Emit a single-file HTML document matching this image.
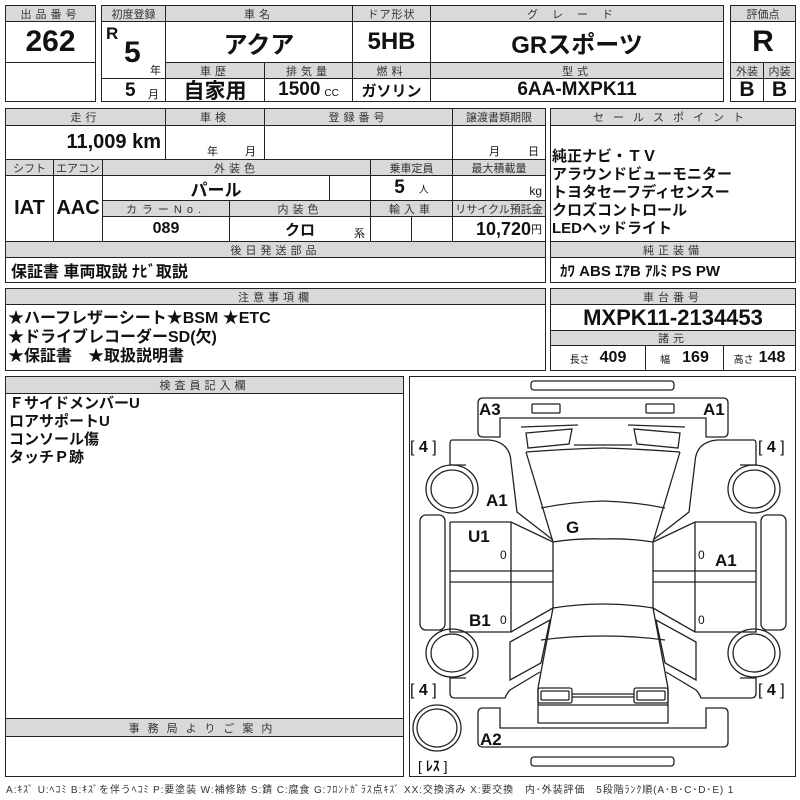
<!DOCTYPE html>
<html><head><meta charset="utf-8">
<style>
*{margin:0;padding:0}
body{width:800px;height:800px;background:#fff;position:relative;overflow:hidden;font-family:"Liberation Sans","Noto Sans CJK JP",sans-serif;color:#111}
.c{position:absolute;border:1px solid #222;box-sizing:border-box;display:flex;align-items:center;justify-content:center;white-space:nowrap;overflow:hidden}
.h{background:#d9d9d9;font-size:11px;letter-spacing:4px;color:#333}
.v{font-weight:bold;font-family:"Liberation Sans Narrow","Liberation Sans","Noto Sans CJK JP",sans-serif}
.t{position:absolute;white-space:nowrap}
.tx{font-family:"Liberation Sans","Noto Sans CJK JP",sans-serif;font-weight:bold;font-size:15px;line-height:18px}
</style></head><body>
<div class="c" style="left:5px;top:5px;width:91px;height:97px"></div>
<div class="c h" style="left:5px;top:5px;width:91px;height:17px">出品番号</div>
<div class="c v" style="left:5px;top:21px;width:91px;height:42px;font-size:30px">262</div>
<div class="c" style="left:101px;top:5px;width:623px;height:97px"></div>
<div class="c h" style="left:101px;top:5px;width:65px;height:17px;letter-spacing:0">初度登録</div>
<div class="c h" style="left:165px;top:5px;width:188px;height:17px">車名</div>
<div class="c h" style="left:352px;top:5px;width:79px;height:17px;letter-spacing:1px">ドア形状</div>
<div class="c h" style="left:430px;top:5px;width:294px;height:17px;letter-spacing:14px">グレード</div>
<div class="c" style="left:101px;top:21px;width:65px;height:58px"></div>
<div class="t v" style="left:106px;top:24px;font-size:17px">R</div>
<div class="t v" style="left:124px;top:36px;font-size:30px">5</div>
<div class="t" style="left:150px;top:62px;font-size:11px">年</div>
<div class="c" style="left:101px;top:78px;width:65px;height:24px"></div>
<div class="t v" style="left:125px;top:80px;font-size:19px">5</div>
<div class="t" style="left:148px;top:86px;font-size:11px">月</div>
<div class="c v" style="left:165px;top:21px;width:188px;height:42px;font-size:24px">アクア</div>
<div class="c v" style="left:352px;top:21px;width:79px;height:42px;font-size:24px">5HB</div>
<div class="c v" style="left:430px;top:21px;width:294px;height:42px;font-size:24px">GRスポーツ</div>
<div class="c h" style="left:165px;top:62px;width:100px;height:17px">車歴</div>
<div class="c h" style="left:264px;top:62px;width:89px;height:17px">排気量</div>
<div class="c h" style="left:352px;top:62px;width:79px;height:17px">燃料</div>
<div class="c h" style="left:430px;top:62px;width:294px;height:17px">型式</div>
<div class="c v" style="left:165px;top:78px;width:100px;height:24px;font-size:21px">自家用</div>
<div class="c v" style="left:264px;top:78px;width:89px;height:24px;font-size:19px">1500 <span style="font-size:10px;font-weight:normal;margin-left:4px;margin-top:6px">CC</span></div>
<div class="c v" style="left:352px;top:78px;width:79px;height:24px;font-size:15px">ガソリン</div>
<div class="c v" style="left:430px;top:78px;width:294px;height:24px;font-size:19px">6AA-MXPK11</div>
<div class="c" style="left:730px;top:5px;width:66px;height:97px"></div>
<div class="c h" style="left:730px;top:5px;width:66px;height:17px;letter-spacing:0">評価点</div>
<div class="c v" style="left:730px;top:21px;width:66px;height:42px;font-size:30px">R</div>
<div class="c h" style="left:730px;top:62px;width:34px;height:17px;letter-spacing:0">外装</div>
<div class="c h" style="left:763px;top:62px;width:33px;height:17px;letter-spacing:0">内装</div>
<div class="c v" style="left:730px;top:78px;width:34px;height:24px;font-size:21px">B</div>
<div class="c v" style="left:763px;top:78px;width:33px;height:24px;font-size:21px">B</div>
<div class="c" style="left:5px;top:108px;width:541px;height:175px"></div>
<div class="c h" style="left:5px;top:108px;width:161px;height:18px">走行</div>
<div class="c h" style="left:165px;top:108px;width:100px;height:18px">車検</div>
<div class="c h" style="left:264px;top:108px;width:189px;height:18px">登録番号</div>
<div class="c h" style="left:452px;top:108px;width:94px;height:18px;letter-spacing:0">譲渡書類期限</div>
<div class="c v" style="left:5px;top:125px;width:161px;height:35px;font-size:20px;justify-content:flex-end;padding-right:4px">11,009 km</div>
<div class="c" style="left:165px;top:125px;width:100px;height:35px"></div>
<div class="t" style="left:207px;top:143px;font-size:11px">年</div>
<div class="t" style="left:245px;top:143px;font-size:11px">月</div>
<div class="c" style="left:264px;top:125px;width:189px;height:35px"></div>
<div class="c" style="left:452px;top:125px;width:94px;height:35px"></div>
<div class="t" style="left:489px;top:143px;font-size:11px">月</div>
<div class="t" style="left:528px;top:143px;font-size:11px">日</div>
<div class="c h" style="left:5px;top:159px;width:49px;height:17px;letter-spacing:0">シフト</div>
<div class="c h" style="left:53px;top:159px;width:50px;height:17px;letter-spacing:0">エアコン</div>
<div class="c h" style="left:102px;top:159px;width:269px;height:17px">外装色</div>
<div class="c h" style="left:370px;top:159px;width:83px;height:17px;letter-spacing:0">乗車定員</div>
<div class="c h" style="left:452px;top:159px;width:94px;height:17px;letter-spacing:0">最大積載量</div>
<div class="c v" style="left:5px;top:175px;width:49px;height:67px;font-size:20px">IAT</div>
<div class="c v" style="left:53px;top:175px;width:50px;height:67px;font-size:20px">AAC</div>
<div class="c v" style="left:102px;top:175px;width:228px;height:26px;font-size:17px">パール</div>
<div class="c" style="left:329px;top:175px;width:42px;height:26px"></div>
<div class="c v" style="left:370px;top:175px;width:83px;height:26px;font-size:19px">5 <span style="font-size:10px;font-weight:normal;margin-left:14px">人</span></div>
<div class="c" style="left:452px;top:175px;width:94px;height:26px;justify-content:flex-end;padding-right:3px;font-size:12px;padding-top:6px">kg</div>
<div class="c h" style="left:102px;top:200px;width:128px;height:17px;letter-spacing:5px">カラーNo.</div>
<div class="c h" style="left:229px;top:200px;width:142px;height:17px">内装色</div>
<div class="c h" style="left:370px;top:200px;width:83px;height:17px">輸入車</div>
<div class="c h" style="left:452px;top:200px;width:94px;height:17px;letter-spacing:0">リサイクル預託金</div>
<div class="c v" style="left:102px;top:216px;width:128px;height:26px;font-size:16px">089</div>
<div class="c v" style="left:229px;top:216px;width:142px;height:26px;font-size:15px">クロ</div>
<div class="t" style="left:354px;top:225px;font-size:11px">系</div>
<div class="c" style="left:370px;top:216px;width:42px;height:26px"></div>
<div class="c" style="left:411px;top:216px;width:42px;height:26px"></div>
<div class="c v" style="left:452px;top:216px;width:94px;height:26px;font-size:18px;justify-content:flex-end;padding-right:3px">10,720<span style="font-size:11px;font-weight:normal">円</span></div>
<div class="c h" style="left:5px;top:241px;width:541px;height:17px">後日発送部品</div>
<div class="c v" style="left:5px;top:257px;width:541px;height:26px;font-size:16px;justify-content:flex-start;padding-left:5px">保証書 車両取説 ﾅﾋﾞ取説</div>
<div class="c" style="left:550px;top:108px;width:246px;height:175px"></div>
<div class="c h" style="left:550px;top:108px;width:246px;height:18px;letter-spacing:9px">セールスポイント</div>
<div class="t tx" style="left:552px;top:148px">純正ナビ・ＴＶ<br>アラウンドビューモニター<br>トヨタセーフディセンスー<br>クロズコントロール<br>LEDヘッドライト</div>
<div class="c h" style="left:550px;top:241px;width:246px;height:17px">純正装備</div>
<div class="c v" style="left:550px;top:257px;width:246px;height:26px;font-size:15px;justify-content:flex-start;padding-left:9px">ｶﾜ ABS ｴｱB ｱﾙﾐ PS PW</div>
<div class="c" style="left:5px;top:288px;width:541px;height:83px"></div>
<div class="c h" style="left:5px;top:288px;width:541px;height:17px">注意事項欄</div>
<div class="t tx" style="left:8px;top:309px;font-size:16px;line-height:19px">★ハーフレザーシート★BSM ★ETC<br>★ドライブレコーダーSD(欠)<br>★保証書　★取扱説明書</div>
<div class="c" style="left:550px;top:288px;width:246px;height:83px"></div>
<div class="c h" style="left:550px;top:288px;width:246px;height:17px">車台番号</div>
<div class="c v" style="left:550px;top:304px;width:246px;height:27px;font-size:22px">MXPK11-2134453</div>
<div class="c h" style="left:550px;top:330px;width:246px;height:16px">諸元</div>
<div class="c v" style="left:550px;top:345px;width:96px;height:26px;font-size:16px"><span style="font-size:10px;font-weight:normal;margin-right:10px">長さ</span>409</div>
<div class="c v" style="left:645px;top:345px;width:79px;height:26px;font-size:16px"><span style="font-size:10px;font-weight:normal;margin-right:12px">幅</span>169</div>
<div class="c v" style="left:723px;top:345px;width:73px;height:26px;font-size:16px"><span style="font-size:10px;font-weight:normal;margin-right:5px">高さ</span>148</div>
<div class="c" style="left:5px;top:376px;width:399px;height:401px"></div>
<div class="c h" style="left:5px;top:376px;width:399px;height:18px">検査員記入欄</div>
<div class="t tx" style="left:9px;top:395px;font-size:15px">Ｆサイドメンバー<span>U</span><br>ロアサポートU<br>コンソール傷<br>タッチＰ跡</div>
<div class="c h" style="left:5px;top:718px;width:399px;height:19px;letter-spacing:8px">事務局よりご案内</div>
<div class="c" style="left:409px;top:376px;width:387px;height:401px"></div>
<svg style="position:absolute;left:0;top:0" width="800" height="800" fill="none" stroke="#222" stroke-width="1.3">
<rect x="531" y="381" width="143" height="9" rx="3"/>
<rect x="531" y="757" width="143" height="9" rx="3"/>
<g id="L">
<path d="M603,398 H483 q-5,0 -5,5 V432 q0,5 5,5 H500 V418 H603"/>
<rect x="532" y="404" width="28" height="9" rx="1"/>
<path d="M521,427 L578,425 M526,433 L572,429 L569,444 L528,448 Z M574,445 L603,445"/>
<path d="M526,452 Q565,449 603,448 M526,452 L553,542 M541,508 Q570,502 603,501 M553,542 Q578,538 603,539 M553,542 V608 M553,608 Q578,604 603,604"/>
<path d="M452,440 H489 Q510,442 511,462 L517,512 L553,540 M450,445 V465 H466"/>
<path d="M452,440 q-2,0 -2,5"/>
<ellipse cx="452" cy="489" rx="26" ry="24"/><ellipse cx="452" cy="489" rx="21" ry="19"/>
<ellipse cx="452" cy="653" rx="26" ry="24"/><ellipse cx="452" cy="653" rx="21" ry="19"/>
<rect x="420" y="515" width="25" height="115" rx="6"/>
<path d="M450,522 H511 L553,542 M511,522 V632 M450,522 V632 H511 L553,608 M450,571 H553 M450,582 H553"/>
<path d="M510,642 L550,620 L541,663 L510,680 Z"/>
<path d="M540,672 L510,690 q-3,3 -5,8 H455 q-5,0 -5,-5 V678 H466"/>
<path d="M553,608 L538,688 M541,640 Q570,636 603,636 M538,688 V723 H603"/>
<rect x="538" y="688" width="34" height="15" rx="2"/><rect x="541" y="691" width="28" height="9" rx="1"/>
<path d="M572,694 H603 M572,697 H603 M538,705 H603"/>
<path d="M603,747 H483 q-5,0 -5,-5 V713 q0,-5 5,-5 H500 V728 H603"/>
</g>
<use href="#L" transform="translate(1206,0) scale(-1,1)"/>
<ellipse cx="437" cy="728" rx="24" ry="23"/><ellipse cx="437" cy="728" rx="20" ry="19"/>
</svg>
<div class="t v" style="font-size:17px;left:479px;top:400px">A3</div>
<div class="t v" style="font-size:17px;left:703px;top:400px">A1</div>
<div class="t v" style="font-size:17px;left:486px;top:491px">A1</div>
<div class="t v" style="font-size:17px;left:566px;top:518px">G</div>
<div class="t v" style="font-size:17px;left:468px;top:527px">U1</div>
<div class="t v" style="font-size:17px;left:715px;top:551px">A1</div>
<div class="t v" style="font-size:17px;left:469px;top:611px">B1</div>
<div class="t v" style="font-size:17px;left:480px;top:730px">A2</div>
<div class="t" style="font-size:12px;left:500px;top:548px">0</div>
<div class="t" style="font-size:12px;left:698px;top:548px">0</div>
<div class="t" style="font-size:12px;left:500px;top:613px">0</div>
<div class="t" style="font-size:12px;left:698px;top:613px">0</div>
<div class="t" style="font-size:16px;left:410px;top:439px">[ <b>4</b> ]</div>
<div class="t" style="font-size:16px;left:758px;top:439px">[ <b>4</b> ]</div>
<div class="t" style="font-size:16px;left:410px;top:682px">[ <b>4</b> ]</div>
<div class="t" style="font-size:16px;left:758px;top:682px">[ <b>4</b> ]</div>
<div class="t" style="font-size:14px;left:418px;top:756px">[ <b>ﾚｽ</b> ]</div>
<div class="t" style="font-size:10px;left:6px;top:781px;color:#333;letter-spacing:0.9px">A:ｷｽﾞ U:ﾍｺﾐ B:ｷｽﾞを伴うﾍｺﾐ P:要塗装 W:補修跡 S:錆 C:腐食 G:ﾌﾛﾝﾄｶﾞﾗｽ点ｷｽﾞ XX:交換済み X:要交換　内･外装評価　5段階ﾗﾝｸ順(A･B･C･D･E) 1</div>
</body></html>
